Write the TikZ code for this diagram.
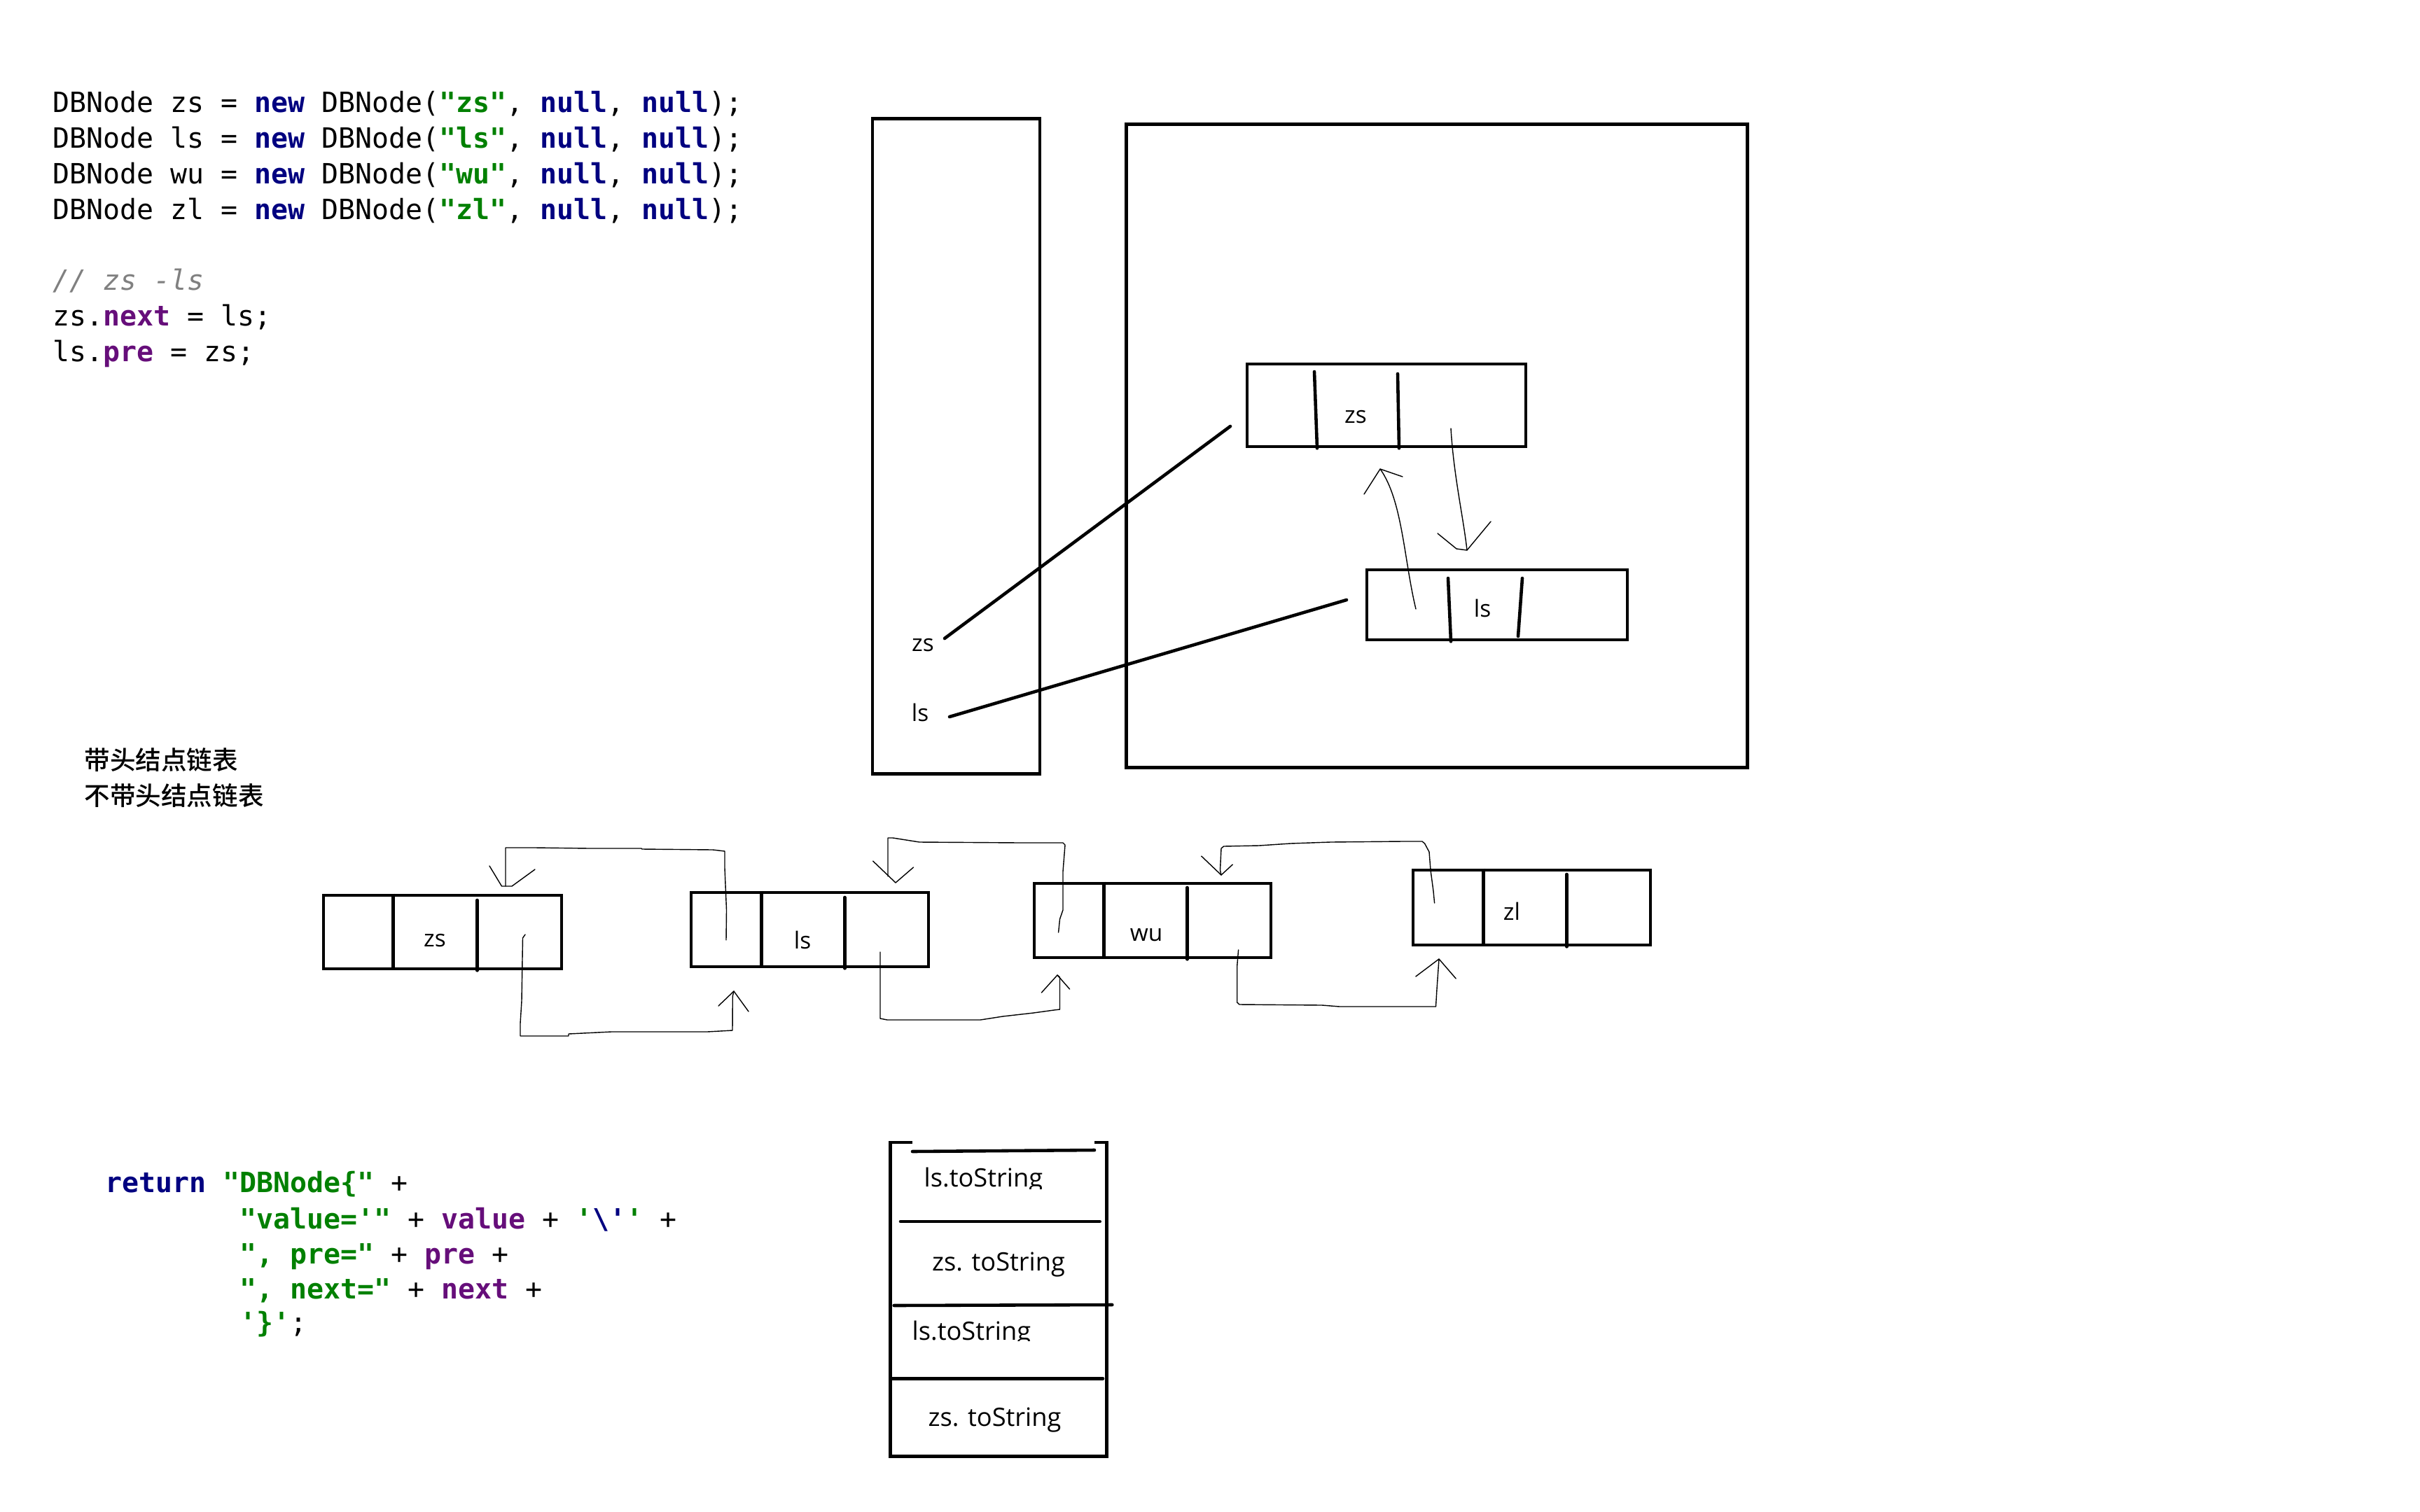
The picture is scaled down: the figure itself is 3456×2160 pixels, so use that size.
\documentclass[tikz,border=0pt]{standalone}
\usepackage{fontspec}
\setmonofont{DejaVu Sans Mono}
\newfontfamily\labelfont{Open Sans}
\newfontfamily\cjkfont{Noto Sans CJK SC Medium}
\usetikzlibrary{calc}

\definecolor{kwnavy}{HTML}{000080}
\definecolor{strgreen}{HTML}{008000}
\definecolor{fldpurple}{HTML}{660E7A}
\definecolor{cmtgray}{HTML}{808080}

% Java syntax colouring
\newcommand\cKw[1]{{\bfseries\color{kwnavy}#1}}
\newcommand\cStr[1]{{\bfseries\color{strgreen}#1}}
\newcommand\cFld[1]{{\bfseries\color{fldpurple}#1}}

\begin{document}
\begin{tikzpicture}[x=0.01cm,y=-0.01cm,
  heavy/.style={line width=1.3pt},
  box/.style={draw,heavy,inner sep=0pt},
  divider/.style={heavy,line cap=round},
  code/.style={anchor=base west,inner sep=0pt,font=\ttfamily\fontsize{11.34}{14}\selectfont},
  lbl/.style={anchor=base,inner sep=0pt,font=\labelfont\fontsize{9.5}{11}\selectfont},
  stacktxt/.style={anchor=base west,inner sep=0pt,font=\labelfont\fontsize{10.3}{12}\selectfont},
  cjk/.style={anchor=west,inner sep=0pt,font=\cjkfont\fontsize{10.4}{12}\selectfont},
  hand/.style={line width=0.4pt,black,line join=round,line cap=round},
]
\useasboundingbox (0,0) rectangle (3456,2160);

% ---------- code: creating and linking nodes ----------
\node[code] (c1) at (75,160) {DBNode zs = \cKw{new} DBNode(\cStr{"zs"}, \cKw{null}, \cKw{null});};
\node[code] (c2) at (75,211) {DBNode ls = \cKw{new} DBNode(\cStr{"ls"}, \cKw{null}, \cKw{null});};
\node[code] (c3) at (75,262) {DBNode wu = \cKw{new} DBNode(\cStr{"wu"}, \cKw{null}, \cKw{null});};
\node[code] (c4) at (75,313) {DBNode zl = \cKw{new} DBNode(\cStr{"zl"}, \cKw{null}, \cKw{null});};
\node[code] (c5) at (75,414) {{\itshape\color{cmtgray}// zs -ls}};
\node[code] (c6) at (75,465) {zs.\cFld{next} = ls;};
\node[code] (c7) at (75,516) {ls.\cFld{pre} = zs;};

% ---------- toString body ----------
\node[code] (r1) at (150,1703) {\cKw{return} \cStr{"DBNode\{"} +};
\node[code] (r2) at (342,1755) {\cStr{"value='"} + \cFld{value} + \cStr{'}\cKw{\textbackslash'}\cStr{'} +};
\node[code] (r3) at (342,1805) {\cStr{", pre="} + \cFld{pre} +};
\node[code] (r4) at (342,1855) {\cStr{", next="} + \cFld{next} +};
\node[code] (r5) at (342,1903) {\cStr{'\}'};};

% ---------- headings ----------
\node[cjk] (t1) at (120,1085.5) {带头结点链表};
\node[cjk] (t2) at (120,1136.7) {不带头结点链表};

% ---------- stack frame and heap ----------
\node[box,minimum width=2.39cm,minimum height=9.35cm] (frame) at (1365.5,637.5) {};
\node[box,minimum width=8.86cm,minimum height=9.18cm] (heap) at (2052,637) {};

\node[box,minimum width=3.98cm,minimum height=1.18cm] (hzs) at (1980,579) {};
\draw[divider] (1877,531) -- (1881,0 |- hzs.south);
\draw[divider] (1996,534) -- (1998,0 |- hzs.south);
\node[lbl] (hzsl) at (1936,604) {zs};

\node[box,minimum width=3.72cm,minimum height=1.00cm] (hls) at (2138,864) {};
\draw[divider] (2068,826) -- (2072,0 |- hls.south);
\draw[divider] (2174,826) -- (2168,909);
\node[lbl] (hlsl) at (2117,881) {ls};

\node[lbl] (vzs) at (1318,930) {zs};
\node[lbl] (vls) at (1314,1030) {ls};

% references from the variables to the objects
\coordinate (zsref) at (1349,912);
\coordinate (zsobj) at (1757,609);
\coordinate (lsref) at (1356,1024);
\coordinate (lsobj) at (1923,857);
\draw[heavy,line cap=round] (zsref) -- (zsobj);
\draw[heavy,line cap=round] (lsref) -- (lsobj);

% zs.next -> ls and ls.pre -> zs
\coordinate (zsnx) at (2072,612);
\coordinate (lsin) at (2095,786);
\coordinate (lspr) at (2022,870);
\coordinate (zsin) at (1971,670);
\draw[hand] (zsnx) .. controls (2076,680) and (2090,740) .. (lsin);
\draw[hand] (2053,762) -- (2080,784) -- (lsin) -- (2129,745);
\draw[hand] (lspr) .. controls (2005,800) and (2003,715) .. (zsin);
\draw[hand] (1948,706) -- (zsin) -- (2003,681);

% ---------- list without head node ----------
\node[box,minimum width=3.40cm,minimum height=1.05cm] (nzs) at (632,1331.5) {};
\draw[heavy] (561.6,0 |- nzs.north) -- (561.6,0 |- nzs.south);
\draw[divider] (681.5,1286) -- (681.5,0 |- nzs.south);
\node[lbl] (nzsl) at (621,1352) {zs};

\node[box,minimum width=3.39cm,minimum height=1.06cm] (nls) at (1156.5,1328) {};
\draw[heavy] (1087.7,0 |- nls.north) -- (1087.7,0 |- nls.south);
\draw[divider] (1206.4,1282) -- (1206.4,0 |- nls.south);
\node[lbl] (nlsl) at (1146,1355) {ls};

\node[box,minimum width=3.38cm,minimum height=1.06cm] (nwu) at (1646,1315) {};
\draw[heavy] (1576.7,0 |- nwu.north) -- (1576.7,0 |- nwu.south);
\draw[divider] (1695.3,1268) -- (1695.3,0 |- nwu.south);
\node[lbl] (nwul) at (1637,1344) {wu};

\node[box,minimum width=3.39cm,minimum height=1.07cm] (nzl) at (2187.5,1296.5) {};
\draw[heavy] (2118.7,0 |- nzl.north) -- (2118.7,0 |- nzl.south);
\draw[divider] (2237.4,1249) -- (2237.4,0 |- nzl.south);
\node[lbl] (nzll) at (2159,1314) {zl};

% ls.pre -> zs
\coordinate (lsPre) at (1037,1343);
\coordinate (zsTop) at (722,1266);
\draw[hand] (lsPre) -- (1037.5,1300) -- (1035,1240) -- (1035,1216) -- (1018,1214) -- (917,1213)
  -- (916,1212) -- (842,1212) -- (764,1211) -- (722,1211) -- (zsTop);
\draw[hand] (699,1237) -- (716.5,1266) -- (731,1266) -- (764,1242);

% zs.next -> ls
\coordinate (zsNext) at (750,1335);
\coordinate (lsBot) at (1048,1416);
\draw[hand] (zsNext) -- (746.5,1340) -- (745,1430) -- (743,1462) -- (743,1480) -- (812,1480)
  -- (812,1477) -- (873,1474) -- (1010,1474) -- (1046,1472) -- (1046.3,1423) -- (lsBot);
\draw[hand] (1026,1437) -- (1038.6,1425) -- (lsBot) -- (1069,1445);

% wu.pre -> ls
\coordinate (wuPre) at (1511.6,1332);
\coordinate (lsTop) at (1279,1261);
\draw[hand] (wuPre) -- (1513.5,1313) -- (1518,1300) -- (1518,1245) -- (1521,1207) -- (1518,1204)
  -- (1457,1204) -- (1313,1203) -- (1294,1200) -- (1275,1197) -- (1268,1197) -- (1268,1252);
\draw[hand] (1246.6,1230) -- (lsTop) -- (1304.5,1239);

% ls.next -> wu
\coordinate (lsNext) at (1257,1360);
\coordinate (wuBot) at (1510,1393);
\draw[hand] (lsNext) -- (1257,1455) -- (1267,1457) -- (1400,1457) -- (1432,1452) -- (1476,1447)
  -- (1505,1443) -- (1513.5,1442) -- (1513.5,1396) -- (wuBot);
\draw[hand] (1487.4,1418) -- (wuBot) -- (1527.6,1413);

% zl.pre -> wu
\coordinate (zlPre) at (2048.6,1290);
\coordinate (wuTop) at (1744,1250);
\draw[hand] (zlPre) -- (2047,1273) -- (2043,1243) -- (2041,1217) -- (2034.6,1205) -- (2031,1202)
  -- (2003,1202) -- (1900,1203) -- (1843,1205) -- (1798,1208) -- (1747.6,1209) -- (1744,1212)
  -- (1742.5,1243) -- (wuTop);
\draw[hand] (1715.7,1223) -- (wuTop) -- (1760.3,1235);

% wu.next -> zl
\coordinate (wuNext) at (1768.6,1357);
\coordinate (zlBot) at (2055,1370);
\draw[hand] (wuNext) -- (1766.7,1380) -- (1766.7,1432) -- (1770,1435) -- (1888,1436) -- (1913,1438)
  -- (2050.5,1438) -- (2052,1413) -- (zlBot);
\draw[hand] (2021.8,1395) -- (zlBot) -- (2079.2,1398);

% ---------- call stack of toString ----------
\draw[heavy] (1302.7,1632) -- (1271.3,1632) -- (1271.3,2080.5) -- (1580.3,2080.5)
  -- (1580.3,1632) -- (1563.3,1632);
\draw[divider] (1303,1645) -- (1563,1643);
\draw[divider] (1286,1745) -- (1570.7,1745);
\draw[divider] (1276.7,1865) -- (1588.3,1864);
\draw[divider] (1273,1969.3) -- (1575,1969.3);

\begin{scope}
  \clip (1280,1650) rectangle (1570,1698);
  \node[stacktxt] (s1) at (1319,1695) {ls.toString};
\end{scope}
\node[stacktxt] (s2) at (1330.5,1815) {zs. toString};
\begin{scope}
  \clip (1280,1870) rectangle (1570,1915.5);
  \node[stacktxt] (s3) at (1302,1914) {ls.toString};
\end{scope}
\node[stacktxt] (s4) at (1325,2037) {zs. toString};

\end{tikzpicture}
\end{document}
